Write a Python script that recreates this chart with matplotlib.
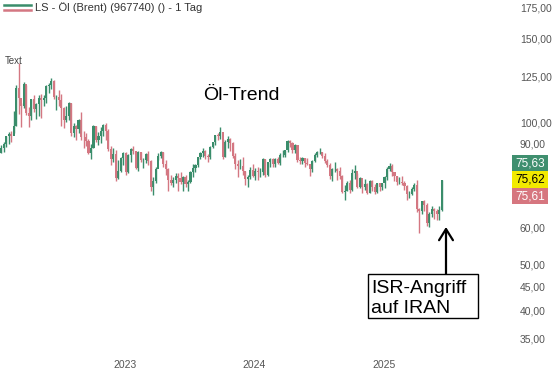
import numpy as np
import pandas as pd
import matplotlib
matplotlib.use("Agg")
import matplotlib.pyplot as plt
import matplotlib.dates as mdates
from matplotlib.patches import Rectangle
from matplotlib.lines import Line2D
from matplotlib.ticker import FixedLocator, FuncFormatter, NullLocator

plt.rcParams["font.family"] = ["Liberation Sans", "DejaVu Sans"]

# weekly Brent candles (LS quote), week ending Friday, from 21.01.2022
first_week = "2022-01-21"
first_open = 86.0

close_2022 = [88.0, 90.0, 93.3, 94.4, 93.5, 97.9, 118.1, 112.7, 107.9, 120.6,
              104.4, 102.8, 111.7, 106.7, 109.3, 112.4, 111.6, 112.6, 119.4, 119.7,
              122.0, 113.1, 113.1, 111.6, 107.0, 101.2, 103.2, 110.0, 94.9, 98.2,
              96.7, 101.0, 93.0, 92.8, 91.4, 86.2, 88.0, 97.9, 91.6, 93.5,
              95.8, 98.6, 96.0, 87.6, 83.6, 85.6, 76.1, 79.0, 83.9, 85.9]
high_2022 = [89.5, 91.0, 93.7, 95.5, 96.0, 105.5, 119.8, 133.0, 110.0, 121.5,
             120.0, 107.5, 112.0, 114.0, 110.0, 114.0, 114.5, 114.0, 120.0, 121.0,
             124.0, 122.5, 114.0, 117.0, 114.5, 107.5, 108.0, 110.5, 110.0, 99.5,
             98.5, 101.5, 105.0, 96.0, 95.0, 92.0, 90.0, 98.5, 98.0, 95.5,
             97.5, 99.0, 99.5, 96.5, 89.0, 88.0, 87.5, 83.0, 84.5, 86.5]
low_2022 = [86.0, 86.5, 88.5, 90.0, 91.0, 95.0, 98.0, 104.0, 97.5, 107.0,
            103.5, 97.5, 101.0, 105.0, 101.5, 103.0, 102.0, 108.0, 110.0, 115.0,
            117.5, 112.0, 106.0, 108.0, 98.0, 97.0, 100.0, 101.0, 93.5, 93.0,
            91.5, 95.0, 91.5, 88.0, 89.0, 85.5, 83.5, 88.0, 91.0, 89.5,
            90.5, 93.5, 91.5, 87.0, 81.0, 82.5, 75.0, 76.0, 78.5, 81.0]

close_2023 = [78.6, 85.3, 87.6, 86.7, 79.9, 86.4, 83.0, 83.2, 85.8, 82.8,
              73.0, 75.0, 79.8, 85.0, 86.3, 81.7, 79.5, 75.3, 74.2, 75.6,
              77.0, 76.1, 74.8, 76.6, 73.9, 74.9, 78.5, 79.9, 81.1, 84.4,
              86.2, 86.8, 84.8, 84.5, 88.6, 90.6, 93.9, 93.3, 95.3, 84.6,
              90.9, 92.2, 90.5, 84.9, 81.4, 80.6, 80.6, 78.9, 75.8, 76.6,
              79.1, 77.0]
high_2023 = [86.5, 85.5, 88.0, 89.0, 87.0, 86.8, 86.5, 84.0, 86.0, 86.8,
             83.0, 76.5, 80.5, 86.0, 87.0, 86.5, 83.0, 80.0, 77.5, 76.5,
             78.0, 78.0, 78.5, 77.0, 77.5, 75.5, 79.0, 81.5, 81.5, 84.5,
             86.5, 88.0, 87.5, 85.5, 89.0, 91.0, 94.0, 95.0, 97.5, 92.0,
             91.5, 93.5, 92.5, 91.0, 86.0, 83.0, 83.5, 84.5, 79.0, 77.5,
             80.5, 81.5]
low_2023 = [77.5, 78.0, 82.5, 85.5, 79.5, 79.0, 82.5, 80.0, 82.0, 81.0,
            71.5, 70.0, 74.5, 83.0, 84.0, 80.5, 77.5, 71.5, 73.5, 73.0,
            74.5, 71.5, 74.0, 71.5, 73.0, 71.5, 74.5, 76.5, 78.5, 80.5,
            83.5, 84.5, 83.5, 82.5, 83.5, 88.0, 89.5, 91.5, 92.0, 83.5,
            84.5, 88.0, 87.0, 84.0, 79.5, 76.5, 79.5, 77.5, 73.5, 73.0,
            76.0, 76.5]

close_2024 = [78.8, 78.3, 78.6, 83.6, 77.3, 82.2, 83.5, 81.6, 83.6, 82.1,
              85.3, 85.4, 87.5, 91.2, 90.5, 87.3, 89.5, 83.0, 82.8, 84.0,
              82.1, 81.6, 79.6, 82.6, 85.2, 86.4, 86.5, 85.0, 82.6, 81.1,
              76.8, 79.7, 79.7, 79.0, 76.9, 71.1, 71.6, 74.5, 72.0, 78.1,
              79.0, 73.1, 76.1, 73.1, 73.9, 71.0, 75.2, 72.9, 71.1, 74.5,
              72.9, 74.2]
high_2024 = [80.0, 80.5, 80.0, 84.0, 83.5, 82.5, 84.0, 84.0, 84.0, 84.5,
             86.0, 87.5, 87.5, 91.5, 91.5, 91.0, 90.0, 89.0, 84.5, 84.5,
             84.0, 84.0, 81.5, 83.0, 86.0, 87.0, 88.0, 86.5, 86.0, 83.5,
             82.0, 80.0, 82.5, 80.0, 80.5, 77.5, 73.5, 75.0, 75.5, 79.5,
             81.0, 78.0, 76.5, 74.5, 76.0, 74.5, 75.5, 75.5, 74.0, 74.5,
             74.5, 74.5]
low_2024 = [75.5, 75.5, 76.5, 77.5, 76.5, 77.0, 80.5, 80.5, 80.5, 81.5,
            81.0, 84.5, 84.5, 86.5, 88.5, 86.0, 86.0, 82.5, 81.5, 81.5,
            80.5, 81.0, 77.0, 78.5, 82.5, 84.5, 85.5, 84.0, 82.0, 80.5,
            76.0, 75.0, 78.5, 75.5, 76.0, 71.0, 68.5, 71.5, 71.0, 71.5,
            76.0, 72.5, 72.5, 71.0, 72.0, 70.5, 71.0, 71.5, 70.5, 71.0,
            71.5, 72.0]

close_2025 = [76.5, 79.8, 80.8, 78.5, 76.8, 74.7, 74.7, 74.4, 73.2, 70.4,
              70.6, 72.2, 73.6, 65.6, 64.8, 68.0, 66.9, 61.3, 63.9, 65.4,
              64.8, 63.9, 65.3, 75.62]
high_2025 = [76.8, 80.5, 82.0, 81.5, 78.5, 77.0, 76.5, 77.0, 75.0, 73.5,
             71.5, 73.0, 74.5, 75.5, 66.0, 68.0, 68.5, 67.5, 64.5, 66.5,
             66.0, 65.5, 66.5, 75.63]
low_2025 = [72.5, 75.5, 79.0, 77.0, 75.0, 73.5, 74.0, 73.5, 72.0, 68.5,
            69.0, 70.0, 71.5, 64.5, 58.4, 64.0, 65.0, 60.2, 60.0, 63.0,
            62.5, 62.0, 62.0, 65.0]

last_ask, last_price, last_bid = 75.63, 75.62, 75.61
y_ticks = [35, 40, 45, 50, 60, 90, 100, 125, 150, 175]
title = "LS - Öl (Brent) (967740) () - 1 Tag"

closes = np.array(close_2022 + close_2023 + close_2024 + close_2025)
highs = np.array(high_2022 + high_2023 + high_2024 + high_2025)
lows = np.array(low_2022 + low_2023 + low_2024 + low_2025)
opens = np.concatenate([[first_open], closes[:-1]])
weeks = pd.date_range(first_week, periods=len(closes), freq="W-FRI") - pd.Timedelta(days=2)
x = mdates.date2num(weeks)

GREEN = "#3a8d6b"
RED = "#d47782"
up = closes >= opens
col = np.where(up, GREEN, RED)

W, H = 559, 374
fig = plt.figure(figsize=(W / 100, H / 100), dpi=100)
ax = fig.add_axes([0, 22 / H, 510 / W, 1 - 22 / H])

ax.vlines(x, lows, highs, colors=col, lw=1.0)
ax.bar(x, np.abs(closes - opens), bottom=np.minimum(opens, closes),
       width=6.0, color=col, linewidth=0)

ax.set_yscale("log")
ax.set_ylim(32.7, 181.1)
x0 = mdates.date2num(pd.Timestamp("2023-01-01"))
ax.set_xlim(x0 - 351, x0 + 1084)

for s in ax.spines.values():
    s.set_visible(False)
ax.yaxis.tick_right()
ax.yaxis.set_major_locator(FixedLocator(y_ticks))
ax.yaxis.set_minor_locator(NullLocator())
ax.yaxis.set_major_formatter(FuncFormatter(lambda v, p: f"{v:.2f}".replace(".", ",")))
ax.xaxis.set_major_locator(mdates.YearLocator())
ax.xaxis.set_major_formatter(mdates.DateFormatter("%Y"))
ax.tick_params(length=0, labelsize=7.5, labelcolor="#555555")
ax.tick_params(axis="y", pad=7)
ax.tick_params(axis="x", pad=6)

# legend line + title
fig.add_artist(Line2D([4 / W, 31 / W], [1 - 4.5 / H] * 2, color=GREEN, lw=1.8))
fig.add_artist(Line2D([4 / W, 31 / W], [1 - 9.5 / H] * 2, color=RED, lw=1.8))
fig.text(35 / W, 1 - 8 / H, title, fontsize=8, color="#333333", va="center")

fig.text(5 / W, 1 - 61 / H, "Text", fontsize=7, color="#444444", va="center")
fig.text(241 / W, 1 - 96 / H, "Öl-Trend", fontsize=14, color="black",
         ha="center", va="center")

# ask / last / bid boxes on the price scale
fig.canvas.draw()
yl = ax.transData.transform((x[-1], last_price))[1] / H
bh = 16.5 / H
for val, fc, tc, k in [(last_ask, "#3f8f6f", "white", 1), (last_price, "#f2ea00", "black", 0),
                       (last_bid, "#d6767f", "white", -1)]:
    yc = yl + k * bh
    fig.add_artist(Rectangle((512 / W, yc - bh / 2), 36 / W, bh, facecolor=fc,
                             edgecolor="none", transform=fig.transFigure, zorder=2))
    fig.text(530 / W, yc, f"{val:.2f}".replace(".", ","), color=tc, fontsize=8.5,
             ha="center", va="center", zorder=3)

# event annotation
ax.annotate("", xy=(446 / W, 1 - 227 / H), xycoords="figure fraction",
            xytext=(446 / W, 1 - 274 / H), textcoords="figure fraction",
            arrowprops=dict(arrowstyle="->,head_length=0.8,head_width=0.5",
                            color="black", lw=1.6, shrinkA=0, shrinkB=0))
fig.add_artist(Rectangle((368 / W, 1 - 318 / H), 110 / W, 44 / H, facecolor="white",
                         edgecolor="black", lw=1, transform=fig.transFigure, zorder=2))
fig.text(371 / W, 1 - 293 / H, "ISR-Angriff", fontsize=14, va="baseline", ha="left", zorder=3)
fig.text(371 / W, 1 - 313 / H, "auf IRAN", fontsize=14, va="baseline", ha="left", zorder=3)

fig.savefig("out.png", dpi=100)
